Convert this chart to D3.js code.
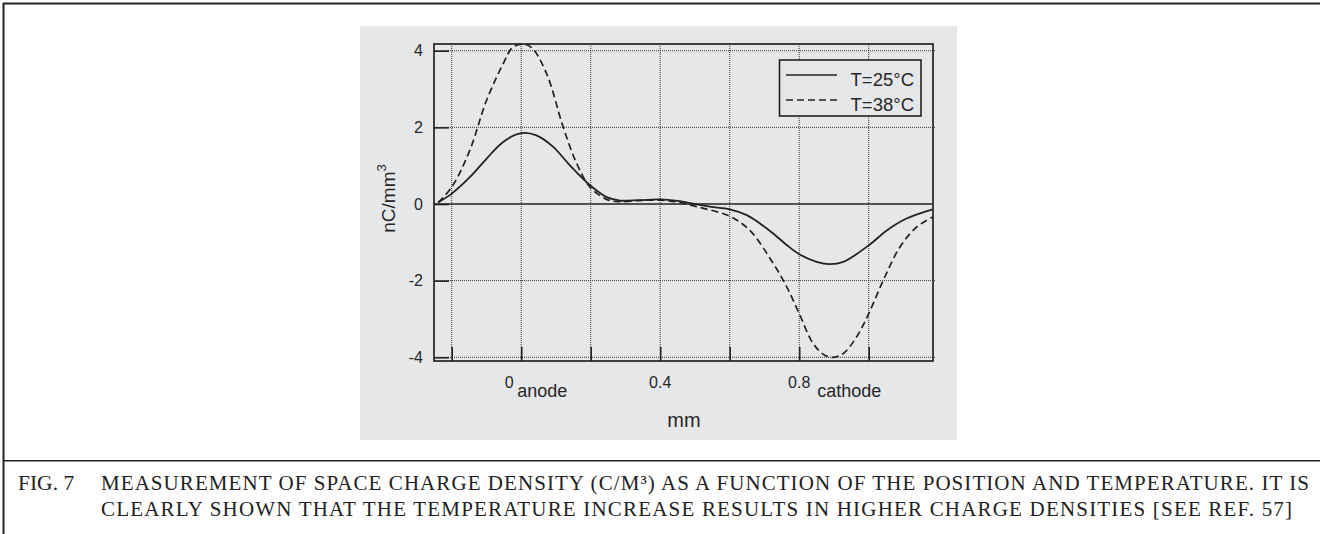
<!DOCTYPE html>
<html>
<head>
<meta charset="utf-8">
<script src="https://cdn.jsdelivr.net/npm/d3@7"></script>
<style>
  html, body { margin: 0; padding: 0; background: #ffffff; }
  svg { display: block; }
</style>
</head>
<body>
<svg id="chart" width="1320" height="534"></svg>
<script>
// ---------- data ----------
const x25 = [-0.239, -0.2, -0.148, -0.1, -0.052, 0, 0.044, 0.092, 0.14, 0.198, 0.246, 0.284, 0.34, 0.4, 0.45, 0.495, 0.543, 0.6, 0.649, 0.686, 0.725, 0.764, 0.8, 0.85, 0.888, 0.927, 1.0, 1.052, 1.109, 1.184];
const y25 = [0.04, 0.27, 0.70, 1.18, 1.62, 1.85, 1.79, 1.49, 1.01, 0.49, 0.18, 0.09, 0.10, 0.12, 0.08, 0.01, -0.07, -0.14, -0.29, -0.50, -0.77, -1.07, -1.31, -1.51, -1.57, -1.51, -1.08, -0.69, -0.38, -0.14];
const x38 = [-0.239, -0.2, -0.148, -0.1, -0.052, -0.025, 0.005, 0.03, 0.073, 0.121, 0.16, 0.198, 0.246, 0.28, 0.34, 0.4, 0.45, 0.505, 0.6, 0.658, 0.725, 0.764, 0.8, 0.84, 0.874, 0.898, 0.927, 0.965, 1.0, 1.042, 1.09, 1.138, 1.184];
const y38 = [0.04, 0.44, 1.4, 2.7, 3.66, 4.08, 4.17, 4.08, 3.4, 2.0, 1.05, 0.44, 0.12, 0.06, 0.09, 0.10, 0.05, -0.07, -0.32, -0.69, -1.55, -2.16, -2.86, -3.64, -3.95, -4.0, -3.9, -3.47, -2.86, -1.99, -1.12, -0.60, -0.34];
const seriesNames = ["T=25°C", "T=38°C"];
const xGridTicks = [-0.2, 0, 0.2, 0.4, 0.6, 0.8, 1.0];
const xTickLabels = [0, 0.4, 0.8];
const yTicks = [-4, -2, 0, 2, 4];
const endLabels = ["anode", "cathode"];
const captionFig = "FIG. 7";
const captionLines = [
  "MEASUREMENT OF SPACE CHARGE DENSITY (C/M³) AS A FUNCTION OF THE POSITION AND TEMPERATURE. IT IS",
  "CLEARLY SHOWN THAT THE TEMPERATURE INCREASE RESULTS IN HIGHER CHARGE DENSITIES [SEE REF. 57]"
];

// ---------- layout ----------
const svg = d3.select("#chart");
const ink = "#222";
const txt = "#262626";
const panelFill = "#e6e7e9";

const x = d3.scaleLinear().domain([-0.251, 1.185]).range([434, 933]);
const y = d3.scaleLinear().domain([-4.097, 4.175]).range([361, 44]);

// outer frame
svg.append("line").attr("x1", 3).attr("x2", 1320).attr("y1", 3.5).attr("y2", 3.5)
  .attr("stroke", ink).attr("stroke-width", 2);
svg.append("line").attr("x1", 3.5).attr("x2", 3.5).attr("y1", 3).attr("y2", 534)
  .attr("stroke", ink).attr("stroke-width", 2);
svg.append("line").attr("x1", 3).attr("x2", 1320).attr("y1", 460.7).attr("y2", 460.7)
  .attr("stroke", ink).attr("stroke-width", 1.6);

// gray panel
svg.append("rect").attr("x", 360).attr("y", 26).attr("width", 597).attr("height", 414)
  .attr("fill", panelFill);

// grid
const grid = svg.append("g");
grid.selectAll("line.vg").data(xGridTicks).join("line")
  .attr("x1", d => x(d)).attr("x2", d => x(d))
  .attr("y1", y.range()[1]).attr("y2", y.range()[0])
  .attr("stroke", "#333").attr("stroke-width", 1).attr("stroke-dasharray", "1,1");
grid.selectAll("line.hg").data(yTicks.filter(d => d !== 0)).join("line")
  .attr("x1", x.range()[0]).attr("x2", x.range()[1] + 3)
  .attr("y1", d => y(d)).attr("y2", d => y(d))
  .attr("stroke", "#333").attr("stroke-width", 1).attr("stroke-dasharray", "1,1");
// zero line
svg.append("line").attr("x1", x.range()[0]).attr("x2", x.range()[1])
  .attr("y1", y(0)).attr("y2", y(0)).attr("stroke", ink).attr("stroke-width", 1.4);

const lblFont = "Arial, 'Liberation Sans', sans-serif";

// axes
const yAxis = svg.append("g").attr("transform", `translate(${x.range()[0]},0)`)
  .call(d3.axisLeft(y).tickValues(yTicks).tickSize(-15).tickPadding(11).tickFormat(d => String(d)));
yAxis.select(".domain").remove();
yAxis.attr("font-size", null).attr("font-family", null);
yAxis.selectAll(".tick line").attr("stroke", ink).attr("stroke-width", 1.6);
yAxis.selectAll(".tick text").attr("fill", txt).style("font-family", lblFont)
  .style("font-size", "16px");

const xAxis = svg.append("g").attr("transform", `translate(0,${y.range()[0]})`)
  .call(d3.axisBottom(x).tickValues(xGridTicks).tickSize(-14).tickFormat(""));
xAxis.select(".domain").remove();
xAxis.selectAll(".tick line").attr("stroke", ink).attr("stroke-width", 1.6);

// plot border
svg.append("rect").attr("x", x.range()[0]).attr("y", y.range()[1])
  .attr("width", x.range()[1] - x.range()[0]).attr("height", y.range()[0] - y.range()[1])
  .attr("fill", "none").attr("stroke", ink).attr("stroke-width", 1.7);

// x tick labels
svg.selectAll("text.xt").data(xTickLabels).join("text")
  .attr("x", d => x(d) - (d === 0 ? 12 : 0)).attr("y", 388)
  .attr("text-anchor", "middle").attr("fill", txt)
  .style("font-family", lblFont).style("font-size", "16px")
  .text(d => String(d));
svg.append("text").attr("x", x(0) - 4).attr("y", 397).attr("fill", txt)
  .style("font-family", lblFont).style("font-size", "18px").text(endLabels[0]);
svg.append("text").attr("x", x(0.8) + 18).attr("y", 397).attr("fill", txt)
  .style("font-family", lblFont).style("font-size", "18px").text(endLabels[1]);

// axis titles
svg.append("text").attr("x", 684).attr("y", 427).attr("text-anchor", "middle").attr("fill", txt)
  .style("font-family", lblFont).style("font-size", "20px").text("mm");
const yt = svg.append("text").attr("transform", "translate(395,198.5) rotate(-90)")
  .attr("text-anchor", "middle").attr("fill", txt)
  .style("font-family", lblFont).style("font-size", "19px");
yt.append("tspan").text("nC/mm");
yt.append("tspan").attr("dy", -9).style("font-size", "13px").text("3");

// curves
const line = d3.line().x(d => x(d[0])).y(d => y(d[1])).curve(d3.curveCatmullRom.alpha(0.5));
const d25 = x25.map((v, i) => [v, y25[i]]);
const d38 = x38.map((v, i) => [v, y38[i]]);
svg.append("path").datum(d38).attr("d", line).attr("fill", "none")
  .attr("stroke", ink).attr("stroke-width", 1.7).attr("stroke-dasharray", "7,4");
svg.append("path").datum(d25).attr("d", line).attr("fill", "none")
  .attr("stroke", ink).attr("stroke-width", 1.8);

// legend
const lg = svg.append("g");
lg.append("rect").attr("x", 779.5).attr("y", 60).attr("width", 141.5).attr("height", 56)
  .attr("fill", panelFill).attr("stroke", ink).attr("stroke-width", 1.6);
const legendRows = [{name: seriesNames[0], dash: null, ly: 75, ty: 86},
                    {name: seriesNames[1], dash: "7,4", ly: 100, ty: 110.5}];
legendRows.forEach(r => {
  lg.append("line").attr("x1", 786).attr("x2", 837).attr("y1", r.ly).attr("y2", r.ly)
    .attr("stroke", ink).attr("stroke-width", 1.6).attr("stroke-dasharray", r.dash);
  lg.append("text").attr("x", 914).attr("y", r.ty).attr("text-anchor", "end").attr("fill", txt)
    .style("font-family", lblFont).style("font-size", "18.5px").text(r.name);
});

// caption
const capFont = "'Liberation Serif', 'Times New Roman', serif";
svg.append("text").attr("x", 18).attr("y", 490).attr("fill", "#222")
  .style("font-family", capFont).style("font-size", "21.5px").text(captionFig);
svg.append("text").attr("x", 101).attr("y", 490).attr("fill", "#222")
  .attr("textLength", 1208).attr("lengthAdjust", "spacing")
  .style("font-family", capFont).style("font-size", "21px").text(captionLines[0]);
svg.append("text").attr("x", 101).attr("y", 516).attr("fill", "#222")
  .attr("textLength", 1191).attr("lengthAdjust", "spacing")
  .style("font-family", capFont).style("font-size", "21px").text(captionLines[1]);
</script>
</body>
</html>
